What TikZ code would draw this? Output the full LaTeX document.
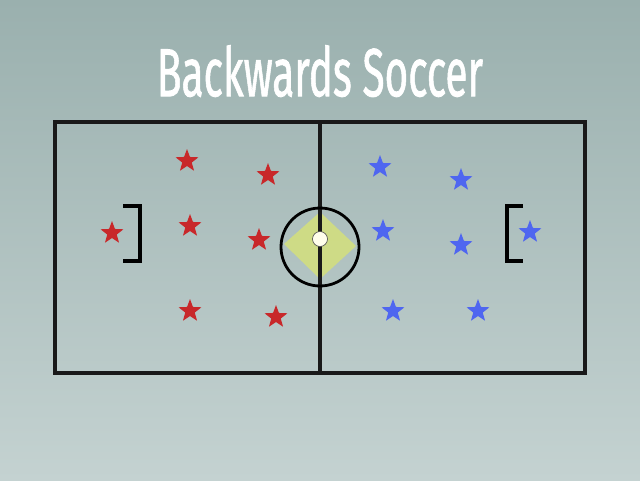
\documentclass[tikz,border=0pt]{standalone}
\usepackage{fontspec}
\setmainfont{Fira Sans}
\newfontfamily\titlefont[FakeBold=1.3]{Fira Sans}
\usetikzlibrary{shapes.geometric}
\definecolor{bgtop}{HTML}{9AB0AE}
\definecolor{bgbot}{HTML}{C4D2D1}
\definecolor{redstar}{HTML}{C8282A}
\definecolor{bluestar}{HTML}{4F66F0}
\definecolor{diam}{HTML}{D4E07C}
\tikzset{
  player/.style={star, star points=5, star point ratio=2.4, minimum size=24pt, inner sep=0pt, fill=#1, draw=none},
  fieldline/.style={line width=3.2pt, black!90},
  goalline/.style={line width=3.6pt, black},
}
\begin{document}
\begin{tikzpicture}[x=1pt,y=-1pt]
\useasboundingbox (0,0) rectangle (640,480);
\shade[top color=bgtop, bottom color=bgbot] (0,0) rectangle (640,480);
% title
\node[text=white, inner sep=0pt, anchor=north] (title) at (320,45)
  {\resizebox{326pt}{51pt}{\titlefont Backwards Soccer}};
% field
\coordinate (tl) at (55,122);
\coordinate (br) at (585,373);
\coordinate (mt) at (320,122);
\coordinate (mb) at (320,373);
\fill[diam, opacity=0.85] (320,212) -- (356,246) -- (320,279) -- (284,244) -- cycle;
\draw[fieldline] (tl) rectangle (br);
\draw[fieldline] (mt) -- (mb);
\node[circle, draw=black, line width=2.8pt, minimum size=78pt, inner sep=0pt] (centre) at (320,247) {};
\node[circle, fill=white!92!yellow, draw=black!70, line width=0.6pt, minimum size=15pt, inner sep=0pt] (ball) at (320,239) {};
% goals
\draw[goalline] (123,206) -- (140,206) -- (140,261) -- (123,261);
\draw[goalline] (523,206) -- (507,206) -- (507,261) -- (523,261);
% red team
\node[player=redstar] (r1) at (187,161) {};
\node[player=redstar] (r2) at (268,175) {};
\node[player=redstar] (r3) at (112,233) {};
\node[player=redstar] (r4) at (190,226) {};
\node[player=redstar] (r5) at (259,240) {};
\node[player=redstar] (r6) at (190,311) {};
\node[player=redstar] (r7) at (276,317) {};
% blue team
\node[player=bluestar] (b1) at (380,167) {};
\node[player=bluestar] (b2) at (461,180) {};
\node[player=bluestar] (b3) at (383,231) {};
\node[player=bluestar] (b4) at (461,245) {};
\node[player=bluestar] (b5) at (530,232) {};
\node[player=bluestar] (b6) at (393,311) {};
\node[player=bluestar] (b7) at (478,311) {};
\end{tikzpicture}
\end{document}
